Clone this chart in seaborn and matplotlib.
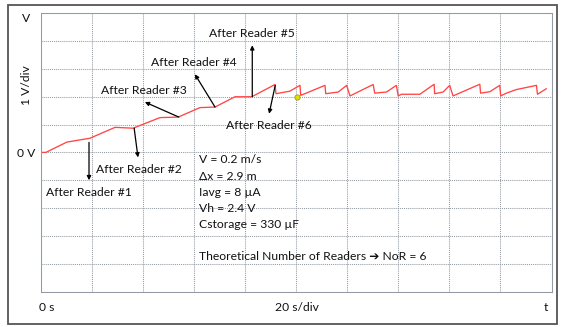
import matplotlib
matplotlib.use("Agg")
import matplotlib.pyplot as plt
from matplotlib.patches import Rectangle
import seaborn as sns
import pandas as pd

# ---- data ----
time_s = [0, 1.8, 10, 19.1, 28.9, 36, 46.5, 53.7, 62.2, 68.1, 75.9, 82.5,
          91.6, 92, 97.4, 101.4, 101.7, 111.2, 111.5, 116.4, 119.7, 121,
          130.1, 130.7, 135.3, 139.2, 139.9, 141.2, 148.4, 154, 154.2, 157.5,
          160.1, 161.4, 171.9, 172.2, 175.8, 179.7, 180.1, 182.3, 186.3,
          194.1, 194.5, 198]
voltage_v = [0, 0, 0.37, 0.51, 0.90, 0.87, 1.25, 1.27, 1.61, 1.63, 2.0, 2.0,
             2.44, 2.11, 2.20, 2.41, 2.05, 2.41, 2.11, 2.17, 2.41, 2.03,
             2.44, 2.13, 2.17, 2.41, 2.03, 2.09, 2.09, 2.45, 2.11, 2.17,
             2.41, 2.03, 2.45, 2.13, 2.18, 2.41, 2.03, 2.13, 2.26,
             2.41, 2.09, 2.29]
marker_t = [100.2]
marker_v = [2.0]

reader_labels = ["After Reader #1", "After Reader #2", "After Reader #3",
                 "After Reader #4", "After Reader #5", "After Reader #6"]
label_pos = [(1.8, -1.43), (21.4, -0.62), (23.3, 2.23),
             (43.0, 3.23), (65.8, 4.26), (72.4, 0.97)]
arrow_tail = [(18.7, 0.36), (36.4, 0.87), (53.9, 1.27),
              (68.1, 1.63), (82.7, 2.0), (91.7, 2.41)]
arrow_head = [(18.7, -1.0), (37.9, -0.18), (40.6, 1.81),
              (60.2, 2.81), (82.7, 3.85), (89.3, 1.39)]

info_lines = ["V = 0.2 m/s", "\u0394x = 2.9 m", "Iavg = 8 \u00b5A",
              "Vh = 2.4 V", "Cstorage = 330 \u00b5F"]
info_y = [-0.27, -0.85, -1.43, -2.02, -2.60]
info_x = 62.0
theory_text = "Theoretical Number of Readers \u2794 NoR = 6"
theory_y = -3.74

x_ticks = list(range(0, 201, 20))
y_ticks = list(range(-5, 6, 1))

# ---- figure ----
sns.set_theme(style="white")
FONT = ["Lato", "DejaVu Sans"]
plt.rcParams["font.family"] = FONT
FS = 8.7

W, H = 568, 327
fig = plt.figure(figsize=(W / 100, H / 100), dpi=100)
ax = fig.add_axes([41.3 / W, 1 - 291.5 / H, (551.5 - 41.3) / W, (291.5 - 13.3) / H])

df = pd.DataFrame({"t": time_s, "v": voltage_v})
sns.lineplot(data=df, x="t", y="v", ax=ax, color="#ff4545", linewidth=0.95,
             sort=False, estimator=None)
sns.scatterplot(x=marker_t, y=marker_v, ax=ax, color="#e0e000",
                edgecolor="#a0a000", s=14, linewidth=0.6, zorder=5)

ax.set_xlim(0, 200)
ax.set_ylim(-5, 5)
ax.set_xticks(x_ticks)
ax.set_yticks(y_ticks)
ax.tick_params(left=False, bottom=False, labelleft=False, labelbottom=False)
ax.set_xlabel("")
ax.set_ylabel("")
ax.grid(True, color="#939aa3", linestyle=(0, (1, 1)), linewidth=0.75)
for sp in ax.spines.values():
    sp.set_visible(True)
    sp.set_color("#939aa3")
    sp.set_linestyle((0, (1, 1)))
    sp.set_linewidth(0.75)

TXT = "#111111"
for lab, (lx, ly) in zip(reader_labels, label_pos):
    ax.text(lx, ly, lab, fontsize=FS, ha="left", va="center", color=TXT,
            family=FONT)
for tail, head in zip(arrow_tail, arrow_head):
    ax.annotate("", xy=head, xytext=tail,
                arrowprops=dict(arrowstyle="-|>", color="black", lw=0.9,
                                mutation_scale=6, shrinkA=0, shrinkB=0))

for line, yy in zip(info_lines, info_y):
    ax.text(info_x, yy, line, fontsize=FS, ha="left", va="center",
            color=TXT, family=FONT)
ax.text(info_x, theory_y, theory_text, fontsize=FS, ha="left", va="center",
        color=TXT, family=FONT)

# outer labels (pixel positions converted to figure fractions)
def ftext(px, py, s, **kw):
    fig.text(px / W, 1 - py / H, s, fontsize=FS, color=TXT,
             family=FONT, **kw)

ftext(26, 19, "V", ha="center", va="center")
ftext(27, 85, "1 V/div", ha="center", va="center", rotation=90)
ftext(26, 153, "0 V", ha="center", va="center")
ftext(38.5, 307.5, "0 s", ha="left", va="center")
ftext(297, 307.5, "20 s/div", ha="center", va="center")
ftext(545.7, 307.5, "t", ha="center", va="center")

fig.patches.append(Rectangle((8 / W, 1 - 324 / H), (557.3 - 8) / W, (324 - 5) / H,
                             transform=fig.transFigure, fill=False,
                             edgecolor="#555555", linewidth=1.3))

fig.savefig("out.png", dpi=100)
